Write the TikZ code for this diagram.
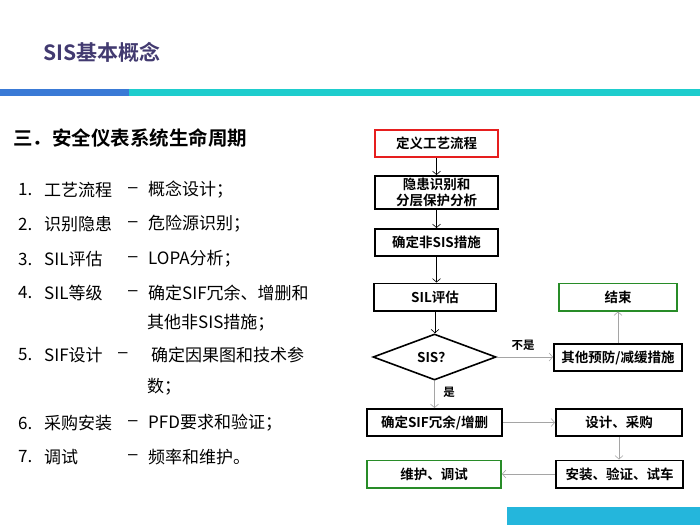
\documentclass[tikz,border=0pt]{standalone}
\usepackage{fontspec}
\setmainfont{Noto Sans CJK SC}[BoldFont={Noto Sans CJK SC Bold}]
\newfontfamily\dashfont{Liberation Sans}
\usetikzlibrary{shapes.geometric, arrows.meta}

\definecolor{titlepurple}{RGB}{66,58,112}
\definecolor{barblue}{RGB}{58,122,214}
\definecolor{barcyan}{RGB}{30,205,205}
\definecolor{footcyan}{RGB}{36,182,220}
\definecolor{boxred}{RGB}{230,30,30}
\definecolor{boxgreen}{RGB}{40,140,40}
\definecolor{arrowgray}{RGB}{165,165,165}

\begin{document}
\begin{tikzpicture}[x=1pt, y=-1pt,
        box/.style={draw, line width=1.6pt, minimum height=27.4pt, inner sep=0pt,
            align=center, font=\bfseries\fontsize{13.5}{16}\selectfont},
        redbox/.style={box, draw=boxred},
        greenbox/.style={box, draw=boxgreen},
        item/.style={anchor=west, inner sep=0pt, font=\fontsize{17}{19}\selectfont},
        sepdash/.style={item, font=\dashfont\fontsize{17}{19}\selectfont},
        lbl/.style={inner sep=0pt, font=\bfseries\fontsize{11.5}{13}\selectfont},
        blk/.style={-{Straight Barb[length=3.5pt, width=8pt]}, line width=0.6pt},
        gry/.style={blk, draw=arrowgray}]
        \useasboundingbox (0,0) rectangle (700,525);
        \fill[barblue]  (0,89)    rectangle (129,96);
        \fill[barcyan]  (129,89)  rectangle (700,96);
        \fill[footcyan] (507,507) rectangle (700,525);

        \node[anchor=west, inner sep=0pt, text=titlepurple,
            font=\bfseries\fontsize{21}{23}\selectfont] (title) at (43,52) {SIS基本概念};
        \node[anchor=west, inner sep=0pt,
            font=\bfseries\fontsize{19.5}{21}\selectfont] (head) at (13,138) {三．安全仪表系统生命周期};

        \node[item] (n1) at (18,190) {1.};
        \node[item] (n2) at (18,224) {2.};
        \node[item] (n3) at (18,259) {3.};
        \node[item] (n4) at (18,293) {4.};
        \node[item] (n5) at (18,355) {5.};
        \node[item] (n6) at (18,423) {6.};
        \node[item] (n7) at (18,457) {7.};
        \node[item] (l1) at (44,190) {工艺流程};
        \node[item] (l2) at (44,224) {识别隐患};
        \node[item] (l3) at (44,259) {SIL评估};
        \node[item] (l4) at (44,293) {SIL等级};
        \node[item] (l5) at (44,355) {SIF设计};
        \node[item] (l6) at (44,423) {采购安装};
        \node[item] (l7) at (44,457) {调试};
        \node[sepdash] (m1) at (128,190) {–};
        \node[sepdash] (m2) at (128,224) {–};
        \node[sepdash] (m3) at (128,259) {–};
        \node[sepdash] (m4) at (128,293) {–};
        \node[sepdash] (m5) at (118,355) {–};
        \node[sepdash] (m6) at (128,423) {–};
        \node[sepdash] (m7) at (128,457) {–};
        \node[item] (d1)  at (148,190) {概念设计；};
        \node[item] (d2)  at (148,224) {危险源识别；};
        \node[item] (d3)  at (148,259) {LOPA分析；};
        \node[item] (d4)  at (148,293) {确定SIF冗余、增删和};
        \node[item] (d4b) at (147,323) {其他非SIS措施；};
        \node[item] (d5)  at (151,355) {确定因果图和技术参};
        \node[item] (d5b) at (147,387) {数；};
        \node[item] (d6)  at (148,423) {PFD要求和验证；};
        \node[item] (d7)  at (148,457) {频率和维护。};

        \node[redbox, minimum width=123.4pt]  (b1) at (436.5,143.5) {定义工艺流程};
        \node[box, minimum width=123.4pt, minimum height=33.4pt]
                                              (b2) at (436.5,192.5) {隐患识别和\\分层保护分析};
        \node[box, minimum width=123.4pt]     (b3) at (436.5,242.5) {确定非SIS措施};
        \node[box, minimum width=122.4pt]     (b4) at (435,297)     {SIL评估};
        \node[greenbox, minimum width=118.4pt] (e) at (618,297)     {结束};
        \node[draw, shape=diamond, line width=1.6pt, inner sep=0pt, aspect=2.6,
            minimum width=123pt, minimum height=46pt,
            font=\bfseries\fontsize{13.5}{16}\selectfont] (q) at (434.5,357) {SIS？};
        \node[box, minimum width=128.4pt]     (o)  at (618,357.5)   {其他预防/减缓措施};
        \node[box, minimum width=135.4pt]     (c1) at (434.5,422.5) {确定SIF冗余/增删};
        \node[box, minimum width=126.4pt]     (c2) at (619,422.5)   {设计、采购};
        \node[box, minimum width=127.4pt]     (c3) at (619.5,474)   {安装、验证、试车};
        \node[greenbox, minimum width=134.4pt] (c4) at (434,474)    {维护、调试};

        \node[lbl] (no)  at (523,345) {不是};
        \node[lbl] (yes) at (449,392) {是};

        \draw[blk] (b1.south) -- (b1.south |- b2.north);
        \draw[blk] (b2.south) -- (b2.south |- b3.north);
        \draw[blk] (b3.south) -- (b3.south |- b4.north);
        \draw[blk] (b4.south) -- (b4.south |- q.north);
        \draw[gry] (q.east)   -- (q.east -| o.west);
        \draw[gry] (o.north)  -- (o.north |- e.south);
        \draw[gry] (q.south)  -- (q.south |- c1.north);
        \draw[gry] (c1.east)  -- (c1.east -| c2.west);
        \draw[gry] (c2.south) -- (c2.south |- c3.north);
        \draw[gry] (c3.west)  -- (c3.west -| c4.east);
    \end{tikzpicture}
\end{document}
